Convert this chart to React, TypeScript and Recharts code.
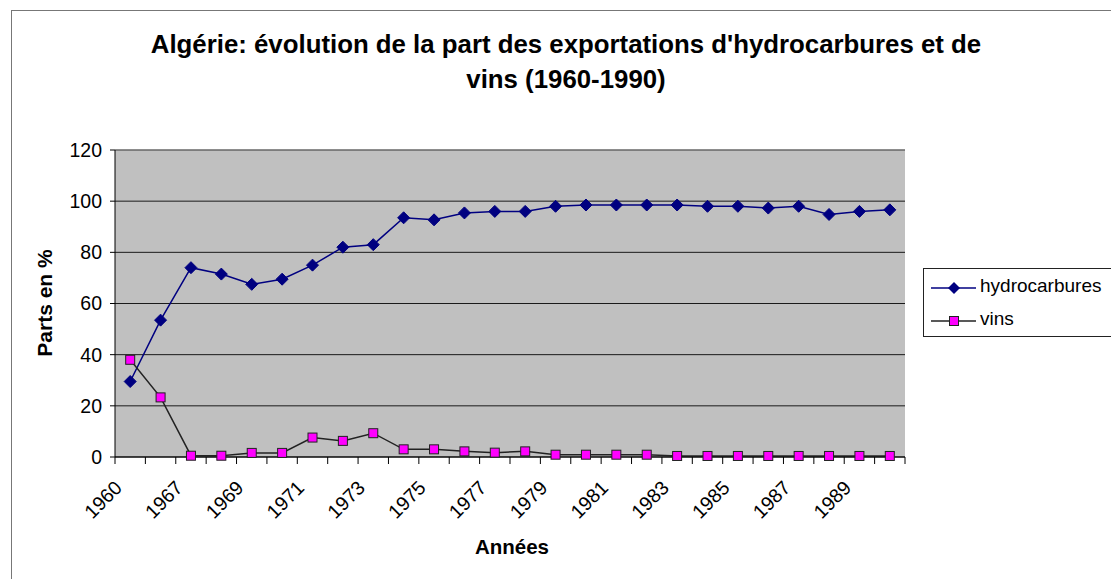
import React from 'react';
import { LineChart, Line, XAxis, YAxis, CartesianGrid, ReferenceLine } from 'recharts';

const years = [
  '1960', '1965', '1967', '1968', '1969', '1970', '1971', '1972', '1973', '1974',
  '1975', '1976', '1977', '1978', '1979', '1980', '1981', '1982', '1983', '1984',
  '1985', '1986', '1987', '1988', '1989', '1990',
];
const hydrocarbures = [
  29.5, 53.5, 74, 71.5, 67.5, 69.5, 75, 82, 83, 93.5,
  92.7, 95.4, 96, 96, 98, 98.5, 98.5, 98.5, 98.5, 98,
  98, 97.3, 98, 94.8, 96, 96.6,
];
const vins = [
  38, 23.3, 0.5, 0.5, 1.6, 1.6, 7.6, 6.3, 9.3, 3,
  3, 2.2, 1.7, 2.2, 0.9, 0.9, 0.9, 0.9, 0.4, 0.4,
  0.4, 0.4, 0.4, 0.4, 0.4, 0.4,
];
const yTicks = [0, 20, 40, 60, 80, 100, 120];

const data = years.map((y, i) => ({ year: y, hydrocarbures: hydrocarbures[i], vins: vins[i] }));

const FONT = '"Liberation Sans", Arial, sans-serif';
const PLOT_LEFT = 115;
const PLOT_RIGHT = 905;
const BAND = (PLOT_RIGHT - PLOT_LEFT) / years.length;

const Diamond = (props: any) => {
  const { cx, cy } = props;
  if (cx == null || cy == null) return null;
  const r = 6;
  return <path d={`M${cx},${cy - r}L${cx + r},${cy}L${cx},${cy + r}L${cx - r},${cy}Z`} fill="#000080" stroke="#000080" />;
};

const Square = (props: any) => {
  const { cx, cy } = props;
  if (cx == null || cy == null) return null;
  return <rect x={cx - 4.5} y={cy - 4.5} width={9} height={9} fill="#ff00ff" stroke="#222" strokeWidth={1} />;
};

const XTick = (props: any) => {
  const { x, y, payload, index } = props;
  const left = x - BAND / 2;
  const ax = x - 7;
  const ay = y + 32;
  return (
    <g>
      <line x1={left} x2={left} y1={y} y2={y + 7} stroke="#000" />
      {index === years.length - 1 && (
        <line x1={x + BAND / 2} x2={x + BAND / 2} y1={y} y2={y + 7} stroke="#000" />
      )}
      {index % 2 === 0 && (
        <text
          x={ax}
          y={ay}
          transform={`rotate(-45 ${ax} ${ay})`}
          textAnchor="end"
          fontSize={19.5}
          fontFamily={FONT}
          fill="#000"
        >
          {payload.value}
        </text>
      )}
    </g>
  );
};

export default function App() {
  return (
    <div style={{ position: 'absolute', left: 0, top: 0, width: 1111, height: 579, overflow: 'hidden', background: '#fff', fontFamily: FONT }}>
      <div style={{ position: 'absolute', left: 11, top: 10, width: 1200, height: 700, border: '1px solid #777' }} />
      <div style={{ position: 'absolute', left: 0, top: 27, width: 1132, textAlign: 'center', fontSize: 25.8, fontWeight: 'bold', lineHeight: '35px', color: '#000' }}>
        Algérie: évolution de la part des exportations d'hydrocarbures et de
        <br />
        vins (1960-1990)
      </div>
      <div style={{ position: 'absolute', left: 0, top: 535, width: 1024, textAlign: 'center', fontSize: 20.5, fontWeight: 'bold', color: '#000' }}>
        Années
      </div>
      <div
        style={{
          position: 'absolute', left: 45, top: 303, transform: 'translate(-50%, -50%) rotate(-90deg)',
          fontSize: 21, fontWeight: 'bold', whiteSpace: 'nowrap', color: '#000',
        }}
      >
        Parts en %
      </div>
      <div style={{ position: 'absolute', left: 0, top: 0 }}>
        <LineChart width={1111} height={579} data={data} margin={{ top: 150, right: 206, bottom: 0, left: 55 }}>
          <CartesianGrid vertical={false} fill="#c0c0c0" stroke="#1a1a1a" strokeOpacity={1} />
          <ReferenceLine y={120} stroke="#8c8c8c" />
          <XAxis
            dataKey="year"
            height={122}
            interval={0}
            padding={{ left: BAND / 2, right: BAND / 2 }}
            tickLine={false}
            tickSize={0}
            tickMargin={0}
            axisLine={{ stroke: '#000' }}
            tick={<XTick />}
          />
          <YAxis
            width={60}
            domain={[0, 120]}
            ticks={yTicks}
            interval={0}
            axisLine={{ stroke: '#000' }}
            tickLine={{ stroke: '#000' }}
            tickSize={5}
            tickMargin={8}
            tick={{ fill: '#000', fontSize: 19.5, fontFamily: FONT }}
          />
          <YAxis yAxisId="right" orientation="right" width={0} tick={false} tickLine={false} axisLine={{ stroke: '#8c8c8c' }} />
          <Line
            dataKey="hydrocarbures"
            stroke="#000080"
            strokeWidth={1.5}
            dot={<Diamond />}
            activeDot={false}
            isAnimationActive={false}
          />
          <Line
            dataKey="vins"
            stroke="#222"
            strokeWidth={1.5}
            dot={<Square />}
            activeDot={false}
            isAnimationActive={false}
          />
        </LineChart>
      </div>
      <div style={{ position: 'absolute', left: 923, top: 268, width: 220, height: 67, border: '1px solid #222', background: '#fff' }}>
        <svg width={60} height={67} style={{ position: 'absolute', left: 0, top: 0 }}>
          <line x1={7} x2={52} y1={19} y2={19} stroke="#000080" strokeWidth={1.5} />
          <path d="M30,13L36,19L30,25L24,19Z" fill="#000080" />
          <line x1={7} x2={52} y1={52} y2={52} stroke="#222" strokeWidth={1.5} />
          <rect x={25.5} y={47.5} width={9} height={9} fill="#ff00ff" stroke="#222" />
        </svg>
        <div style={{ position: 'absolute', left: 56, top: 6, fontSize: 19, color: '#000' }}>hydrocarbures</div>
        <div style={{ position: 'absolute', left: 56, top: 39, fontSize: 19, color: '#000' }}>vins</div>
      </div>
    </div>
  );
}
